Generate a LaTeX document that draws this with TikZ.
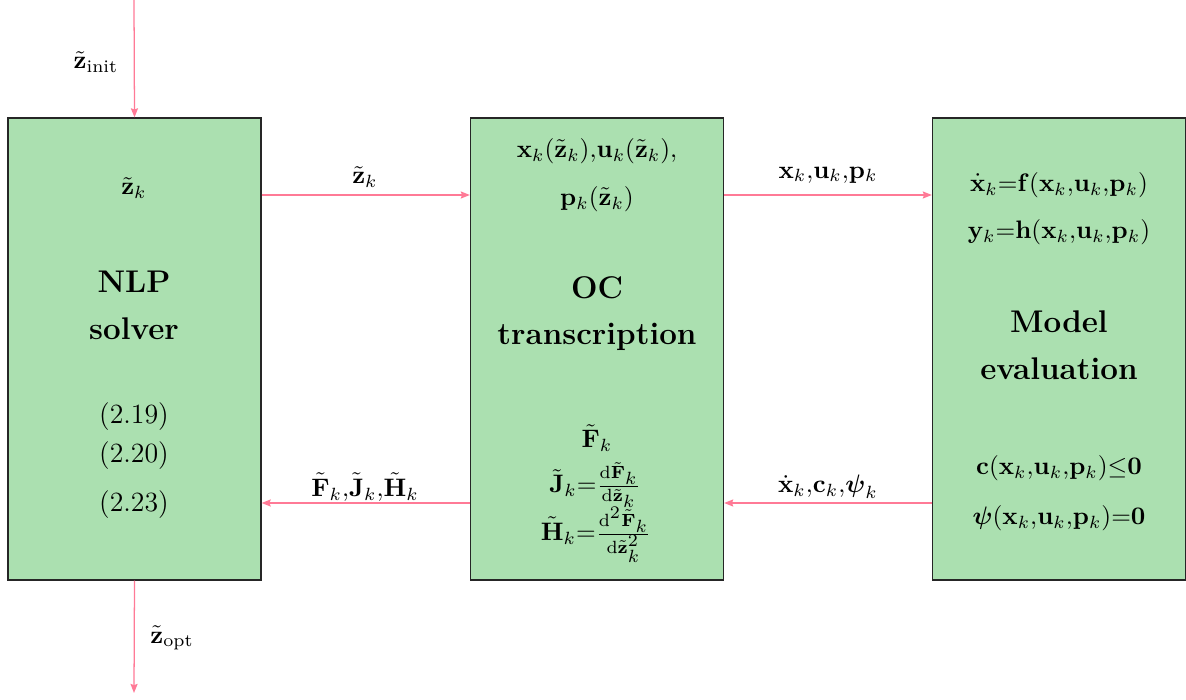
\documentclass[tikz,border=0pt]{standalone}
\usepackage{amsmath}
\usetikzlibrary{arrows.meta}
\definecolor{boxgreen}{RGB}{171,224,176}
\definecolor{arrpink}{RGB}{255,122,150}
\newcommand{\bz}{\tilde{\mathbf{z}}}
\begin{document}
\begin{tikzpicture}[x=0.0139cm,y=-0.0139cm,
 box/.style={draw=black!85,fill=boxgreen,line width=0.5pt,minimum width=3.517cm,minimum height=6.422cm,inner sep=0pt},
 arr/.style={draw=arrpink,line width=0.5pt,-{Stealth[length=3.6pt,width=2.8pt,inset=0.5pt]}},
 lbl/.style={inner sep=1pt},
 eqn/.style={inner sep=1pt,font=\fontsize{11}{13}\selectfont},
 big/.style={font=\fontsize{12.4}{18.5}\selectfont\bfseries,align=center,inner sep=0pt}]
\useasboundingbox (0,0) rectangle (1186,700);
\node[box] (nlp) at (134.5,349) {};
\node[box] (oc) at (597,349) {};
\node[box] (me) at (1059,349) {};
% left box
\node[lbl] (nzk) at (134,188) {$\bz_k$};
\node[big] (nlpt) at (134,305) {NLP\\solver};
\node[eqn] (e19) at (134,417) {(2.19)};
\node[eqn] (e20) at (134,456) {(2.20)};
\node[eqn] (e23) at (134,505) {(2.23)};
% middle box
\node[lbl] (ocx) at (597,151) {$\mathbf{x}_k(\bz_k){,}\mathbf{u}_k(\bz_k){,}$};
\node[lbl] (ocp) at (597,199) {$\mathbf{p}_k(\bz_k)$};
\node[big] (oct) at (597,313.5) {OC\\transcription};
\node[lbl] (ocf) at (597,438) {$\tilde{\mathbf{F}}_k$};
\node[lbl] (ocj) at (595,485) {$\tilde{\mathbf{J}}_k{=}\frac{\mathrm{d}\tilde{\mathbf{F}}_{\scriptstyle k}}{\mathrm{d}\bz_{\scriptstyle k}}$};
\node[lbl] (och) at (596,535) {$\tilde{\mathbf{H}}_k{=}\frac{\mathrm{d}^{\scriptstyle 2}\tilde{\mathbf{F}}_{\scriptstyle k}}{\mathrm{d}\bz_{\scriptstyle k}^{\scriptstyle 2}}$};
% right box
\node[lbl] (mef) at (1059,185) {$\dot{\mathbf{x}}_k{=}\mathbf{f}(\mathbf{x}_k{,}\mathbf{u}_k{,}\mathbf{p}_k)$};
\node[lbl] (meh) at (1059,232) {$\mathbf{y}_k{=}\mathbf{h}(\mathbf{x}_k{,}\mathbf{u}_k{,}\mathbf{p}_k)$};
\node[big] (met) at (1059,345.5) {Model\\evaluation};
\node[lbl] (mec) at (1059,468) {$\mathbf{c}(\mathbf{x}_k{,}\mathbf{u}_k{,}\mathbf{p}_k){\leq}\mathbf{0}$};
\node[lbl] (mep) at (1059,518) {$\boldsymbol{\psi}(\mathbf{x}_k{,}\mathbf{u}_k{,}\mathbf{p}_k){=}\mathbf{0}$};
% outside
\coordinate (init) at (134,0);
\coordinate (opt) at (134,693);
\draw[arr] (init) -- (nlp.north);
\draw[arr] (nlp.south) -- (opt);
\node[lbl] (linit) at (96,62) {$\bz_{\text{init}}$};
\node[lbl] (lopt) at (172,638) {$\bz_{\text{opt}}$};
\draw[arr] (nlp.east |- 0,195) -- (oc.west |- 0,195);
\draw[arr] (oc.east |- 0,195) -- (me.west |- 0,195);
\draw[arr] (me.west |- 0,503) -- (oc.east |- 0,503);
\draw[arr] (oc.west |- 0,503) -- (nlp.east |- 0,503);
\node[lbl] (l1) at (365,177) {$\bz_k$};
\node[lbl] (l2) at (828,175) {$\mathbf{x}_k{,}\mathbf{u}_k{,}\mathbf{p}_k$};
\node[lbl] (l3) at (828,487) {$\dot{\mathbf{x}}_k{,}\mathbf{c}_k{,}\boldsymbol{\psi}_k$};
\node[lbl] (l4) at (365,487) {$\tilde{\mathbf{F}}_k{,}\tilde{\mathbf{J}}_k{,}\tilde{\mathbf{H}}_k$};
\end{tikzpicture}
\end{document}
